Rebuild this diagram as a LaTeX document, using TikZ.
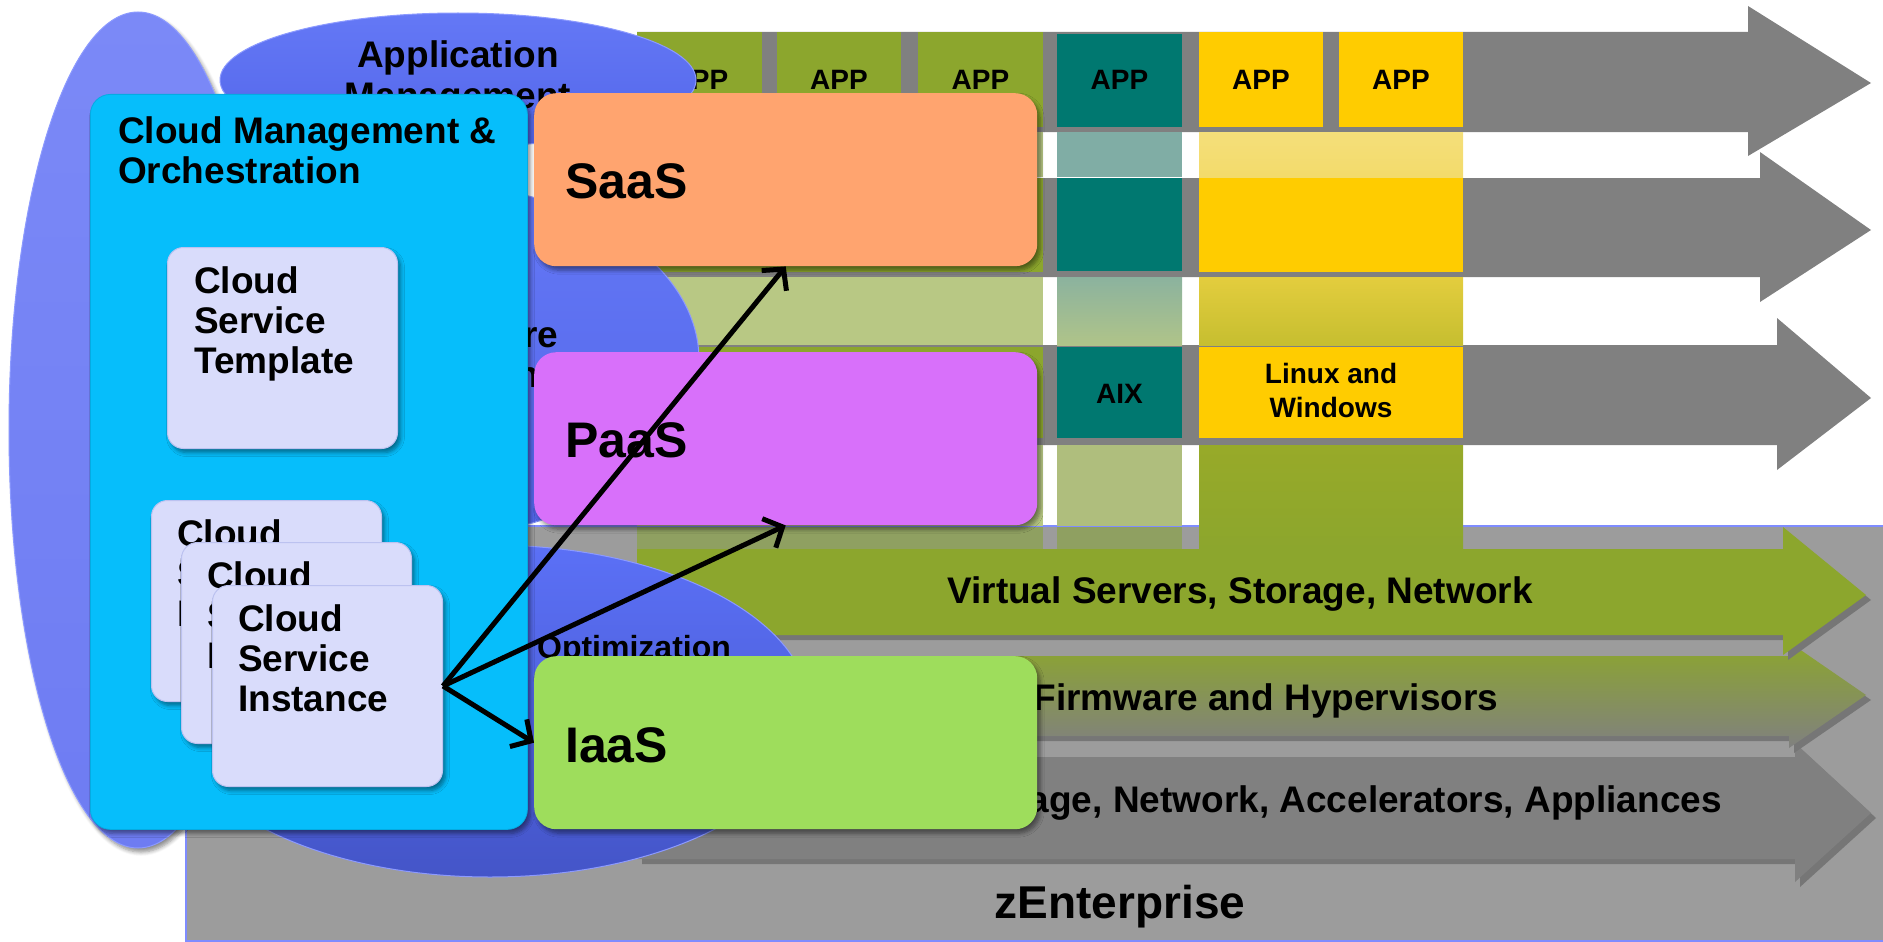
\documentclass[tikz,border=0pt]{standalone}
\usepackage{fontspec}
\setmainfont{Liberation Sans}
\usetikzlibrary{arrows.meta, shadows, shadows.blur}

\definecolor{basegray}{HTML}{9C9C9C}
\definecolor{edgeblue}{HTML}{7F8CFF}
\definecolor{bandgray}{HTML}{808080}
\definecolor{shadowgray}{HTML}{767676}
\definecolor{olive}{HTML}{8CA62D}
\definecolor{lightolive}{HTML}{B8C884}
\definecolor{stripolive}{HTML}{8FA061}
\definecolor{tealcol}{HTML}{007870}
\definecolor{lightteal}{HTML}{80ADA5}
\definecolor{yellowcol}{HTML}{FFCC00}
\definecolor{lightyellow}{HTML}{F3DB6B}
\definecolor{cloudcyan}{HTML}{06BEFB}
\definecolor{lavbox}{HTML}{D9DCFB}
\definecolor{lavedge}{HTML}{BCC2F0}
\definecolor{saasorange}{HTML}{FFA46F}
\definecolor{paasviolet}{HTML}{D870FA}
\definecolor{iaasgreen}{HTML}{9EDD5C}
\definecolor{ellleftA}{HTML}{7B89F7}
\definecolor{ellleftB}{HTML}{6E7CF2}
\definecolor{ellA}{HTML}{6478F6}
\definecolor{ellB}{HTML}{5366E9}
\definecolor{ellbotA}{HTML}{5B70F6}
\definecolor{ellbotB}{HTML}{4455C8}
\definecolor{elledge}{HTML}{8C9AFF}

\newcommand{\txtsz}[2]{\fontsize{#1}{#2}\selectfont\bfseries}

\begin{document}
\begin{tikzpicture}[x=1pt, y=-1pt,
  lbl/.style={inner sep=0pt, text=black},
  applbl/.style={lbl, anchor=base, font=\txtsz{28}{34}},
  midlbl/.style={lbl, anchor=base, font=\txtsz{37}{40}},
  boxlbl/.style={lbl, anchor=base west, align=left, font=\txtsz{37}{40}},
  svclbl/.style={lbl, anchor=base west, font=\txtsz{50}{54}},
  layershadow/.style={drop shadow={shadow xshift=5pt, shadow yshift=-5pt, fill=shadowgray, opacity=1}},
  softshadow/.style={blur shadow={shadow xshift=3pt, shadow yshift=-4pt, shadow blur steps=6, shadow blur radius=4pt, shadow opacity=45}},
  mgmtell/.style={draw=elledge, line width=1pt, top color=ellA, bottom color=ellB},
  svcbox/.style={softshadow, rounded corners=22pt, minimum width=503pt, minimum height=173pt, anchor=north west, inner sep=0pt},
  csbox/.style={softshadow, fill=lavbox, draw=lavedge, line width=1pt, rounded corners=16pt, minimum width=230pt, minimum height=201pt, anchor=north west, inner sep=0pt},
  connarrow/.style={line width=5pt, -{Straight Barb[length=15pt, width=32pt]}},
]
\useasboundingbox (0,0) rectangle (1883,942);

% zEnterprise base
\draw[fill=basegray, draw=edgeblue, line width=2pt] (186,526) rectangle (1900,941);
\node[lbl, anchor=base, font=\txtsz{46}{50}] (zent) at (1120,918) {zEnterprise};

% top layer arrows
\fill[bandgray] (637,32) -- (1748,32) -- (1748,6) -- (1871,83) -- (1748,156) -- (1748,132) -- (637,132) -- cycle;
\fill[bandgray] (637,178) -- (1760,178) -- (1760,152) -- (1871,230) -- (1760,302) -- (1760,277) -- (637,277) -- cycle;
\fill[bandgray] (637,345) -- (1777,345) -- (1777,318) -- (1871,398) -- (1777,470) -- (1777,445) -- (637,445) -- cycle;

% lower layer arrows
\fill[bandgray, layershadow] (637,757) -- (1795,757) -- (1795,743) -- (1871,813) -- (1795,882) -- (1795,859) -- (637,859) -- cycle;
\node[lbl, anchor=base east, font=\txtsz{37}{40}] (hwlbl) at (1722,812) {Servers, Storage, Network, Accelerators, Appliances};
\path[layershadow, top color=olive, bottom color=bandgray] (637,656) -- (1789,656) -- (1789,642) -- (1866,695) -- (1789,748) -- (1789,736) -- (637,736) -- cycle;
\node[midlbl] (fwlbl) at (1266,710) {Firmware and Hypervisors};
\fill[olive, layershadow] (637,549) -- (1783,549) -- (1783,527) -- (1866,595) -- (1783,655) -- (1783,635) -- (637,635) -- cycle;
\node[midlbl] (vslbl) at (1240,603) {Virtual Servers, Storage, Network};

% green column
\foreach \xa/\xb [count=\i] in {637/762, 777/901, 918/1043} {
  \fill[olive] (\xa,32) rectangle (\xb,127);
  \node[applbl] (gapp\i) at ({(\xa+\xb)/2},89) {APP};
}
\fill[lightolive] (637,132) rectangle (1043,177);
\fill[olive] (637,178) rectangle (1043,272);
\fill[lightolive] (637,277) rectangle (1043,345);
\fill[olive] (637,347) rectangle (1043,438);
\fill[lightolive] (637,445) rectangle (1043,526);
\fill[stripolive] (637,527) rectangle (1043,549);

% teal column
\fill[tealcol] (1057,34) rectangle (1182,127);
\node[applbl] (tapp) at (1119.5,89) {APP};
\fill[lightteal] (1057,132) rectangle (1182,177);
\fill[tealcol] (1057,178) rectangle (1182,271);
\fill[top color=lightteal!80!lightolive, bottom color=lightolive!85!lightteal] (1057,277) rectangle (1182,345);
\fill[tealcol] (1057,347) rectangle (1182,438);
\node[applbl] (aix) at (1119.5,403) {AIX};
\fill[lightolive!95!black] (1057,445) rectangle (1182,526);
\fill[stripolive] (1057,527) rectangle (1182,549);

% yellow column
\foreach \xa/\xb [count=\i] in {1199/1323, 1339/1463} {
  \fill[yellowcol] (\xa,32) rectangle (\xb,127);
  \node[applbl] (yapp\i) at ({(\xa+\xb)/2},89) {APP};
}
\fill[top color=lightyellow!90!white, bottom color=lightyellow] (1199,132) rectangle (1463,177);
\fill[yellowcol] (1199,178) rectangle (1463,272);
\fill[top color=yellowcol!70!olive!80!white, bottom color=yellowcol!45!olive!90!white] (1199,277) rectangle (1463,345);
\fill[yellowcol] (1199,347) rectangle (1463,438);
\node[applbl, align=center] (linwin) at (1331,417) {Linux and\\Windows};
\fill[top color=olive!90!yellowcol, bottom color=olive] (1199,445) rectangle (1463,549);

% management ellipses
\path[mgmtell] (458,80) ellipse [x radius=238, y radius=67];
\node[midlbl, align=center] (appmgmt) at (458,108) {Application\\Management};
\path[draw=elledge, line width=1pt, top color=ellleftA, bottom color=ellleftB, softshadow] (138,430) ellipse [x radius=129, y radius=418];
\path[mgmtell] (420,360) ellipse [x radius=279, y radius=178];
\node[midlbl, align=center] (infmgmt) at (438,387) {Infrastructure\\Management};
\path[draw=elledge, line width=1pt, top color=ellbotA, bottom color=ellbotB] (490,711) ellipse [x radius=320, y radius=166];
\node[lbl, anchor=base, font=\txtsz{32}{36}] (optim) at (634,658) {Optimization};

% cloud management box
\node[softshadow, fill=cloudcyan, draw=cloudcyan!90!black, line width=0.8pt, rounded corners=20pt, minimum width=437pt, minimum height=735pt, anchor=north west, inner sep=0pt] (cmo) at (90,94) {};
\node[boxlbl] (cmotitle) at (118,183) {Cloud Management \&\\Orchestration};

\node[csbox] (tmpl) at (167,247) {};
\node[boxlbl] (tmpllbl) at (194,373) {Cloud\\Service\\Template};

\node[csbox] (inst1) at (151,500) {};
\node[boxlbl] (inst1lbl) at (177,626) {Cloud\\Service\\Instance};
\node[csbox] (inst2) at (181,542) {};
\node[boxlbl] (inst2lbl) at (207,668) {Cloud\\Service\\Instance};
\node[csbox] (inst3) at (212,585) {};
\node[boxlbl] (inst3lbl) at (238,711) {Cloud\\Service\\Instance};

% service layers
\node[svcbox, fill=saasorange] (saas) at (534,93) {};
\node[svclbl] (saaslbl) at (565,198) {SaaS};
\node[svcbox, fill=paasviolet] (paas) at (534,352) {};
\node[svclbl] (paaslbl) at (565,457) {PaaS};
\node[svcbox, fill=iaasgreen] (iaas) at (534,656) {};
\node[svclbl] (iaaslbl) at (565,762) {IaaS};

% instance to service
\draw[connarrow] (inst3.east) -- (saas.south);
\draw[connarrow] (inst3.east) -- (paas.south);
\draw[connarrow] (inst3.east) -- (iaas.west);
\end{tikzpicture}
\end{document}
